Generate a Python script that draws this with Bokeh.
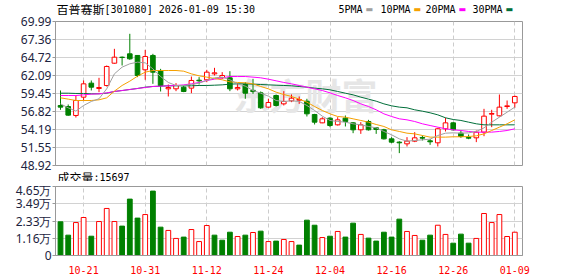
from bokeh.plotting import figure
from bokeh.layouts import column
from bokeh.models import Range1d, FixedTicker, Grid, Label, ColumnDataSource
from bokeh.embed import file_html
from bokeh.resources import INLINE

# ---------------- data ----------------
dates = ["10-16", "10-17", "10-20", "10-21", "10-22", "10-23", "10-24", "10-27", "10-28", "10-29",
         "10-30", "10-31", "11-03", "11-04", "11-05", "11-06", "11-07", "11-10", "11-11", "11-12",
         "11-13", "11-14", "11-17", "11-18", "11-19", "11-20", "11-21", "11-24", "11-25", "11-26",
         "11-27", "11-28", "12-01", "12-02", "12-03", "12-04", "12-05", "12-08", "12-09", "12-10",
         "12-11", "12-12", "12-15", "12-16", "12-17", "12-18", "12-19", "12-22", "12-23", "12-24",
         "12-25", "12-26", "12-29", "12-30", "12-31", "01-05", "01-06", "01-07", "01-08", "01-09"]

opens = [57.70, 57.55, 56.24, 58.92, 60.97, 60.19, 60.62, 63.89, 64.77, 65.26,
         65.02, 62.92, 65.02, 62.82, 60.14, 60.14, 60.38, 60.24, 61.40, 61.46,
         62.33, 61.75, 61.75, 60.14, 60.77, 59.90, 59.55, 57.46, 59.16, 57.94,
         58.38, 58.48, 58.33, 56.38, 55.16, 55.85, 54.87, 55.85, 55.16, 54.14,
         55.36, 54.43, 54.14, 52.82, 52.34, 52.09, 52.48, 53.02, 52.53, 52.24,
         54.29, 55.16, 53.65, 53.02, 52.97, 53.80, 56.43, 56.19, 57.55, 58.09]
highs = [59.90, 57.85, 59.16, 61.36, 61.36, 61.75, 63.55, 65.99, 64.87, 68.19,
         65.06, 65.84, 65.26, 63.06, 60.77, 60.97, 60.63, 61.94, 61.85, 62.92,
         63.21, 62.58, 62.72, 61.00, 61.11, 61.60, 59.75, 58.68, 59.31, 59.80,
         59.31, 59.02, 58.68, 56.48, 55.99, 55.99, 55.99, 56.24, 55.26, 55.26,
         55.60, 54.53, 54.29, 53.07, 52.48, 53.07, 53.80, 53.31, 52.82, 54.43,
         55.90, 55.26, 54.04, 53.46, 54.04, 57.21, 57.07, 59.31, 58.43, 59.16]
lows = [57.07, 56.20, 55.94, 58.43, 59.90, 59.65, 60.48, 63.80, 63.55, 64.38,
        61.85, 61.46, 60.87, 59.75, 59.02, 59.80, 59.65, 59.50, 60.77, 61.11,
        62.09, 61.60, 59.80, 59.90, 58.68, 59.40, 57.21, 57.36, 57.55, 57.70,
        58.19, 57.94, 56.09, 54.92, 55.11, 54.53, 54.77, 54.63, 53.65, 53.55,
        54.04, 53.55, 52.72, 52.19, 50.73, 51.70, 52.34, 52.58, 51.94, 51.70,
        53.90, 54.04, 52.97, 52.77, 52.34, 53.21, 54.53, 56.09, 57.21, 57.36]
closes = [57.46, 56.29, 58.43, 60.87, 60.38, 60.33, 63.41, 64.77, 64.72, 64.53,
          62.09, 64.87, 62.58, 60.63, 60.33, 60.63, 59.75, 61.36, 61.31, 62.58,
          62.48, 62.09, 60.14, 60.33, 59.50, 59.75, 57.36, 58.14, 57.70, 58.29,
          58.77, 58.58, 56.48, 55.26, 55.75, 54.77, 55.60, 55.36, 54.14, 54.87,
          54.14, 54.19, 52.82, 52.34, 52.24, 52.48, 52.97, 52.92, 52.39, 54.29,
          55.16, 54.14, 53.16, 52.92, 53.80, 56.14, 56.53, 57.46, 57.65, 59.02]

ma5 = [57.94, 57.36, 56.87, 57.70, 58.29, 58.68, 60.14, 62.33, 63.31, 63.80,
       64.04, 63.94, 63.06, 61.94, 61.07, 60.63, 60.63, 60.77, 60.97, 61.36,
       61.75, 61.85, 61.46, 60.87, 60.53, 59.89, 59.50, 59.07, 58.43, 58.29,
       58.38, 58.29, 57.70, 56.97, 56.14, 55.51, 55.36, 55.26, 55.02, 54.87,
       54.63, 54.43, 53.90, 53.41, 52.82, 52.48, 52.58, 52.68, 52.77, 53.31,
       53.65, 53.70, 53.65, 53.70, 53.90, 54.43, 55.26, 55.99, 56.72, 57.46]
ma10 = [58.82, 58.63, 58.43, 58.43, 58.43, 58.53, 58.82, 59.80, 60.63, 61.26,
        61.99, 62.58, 62.82, 62.82, 62.82, 62.82, 62.72, 62.33, 62.04, 61.85,
        61.65, 61.46, 61.16, 61.07, 61.02, 60.87, 60.48, 60.14, 59.65, 59.31,
        59.02, 58.63, 58.19, 57.55, 56.97, 56.48, 56.09, 55.99, 55.75, 55.51,
        55.26, 54.92, 54.63, 54.14, 53.90, 53.65, 53.55, 53.31, 53.07, 53.07,
        53.07, 53.12, 53.12, 53.16, 53.26, 53.55, 54.04, 54.53, 55.02, 55.60]
ma20 = [59.16, 59.16, 59.16, 59.26, 59.36, 59.41, 59.55, 59.75, 59.89, 60.04,
        60.19, 60.33, 60.48, 60.53, 60.58, 60.63, 60.72, 60.87, 61.07, 61.36,
        61.55, 61.75, 61.94, 61.94, 61.94, 61.85, 61.75, 61.55, 61.31, 61.07,
        60.87, 60.63, 60.38, 60.14, 59.89, 59.55, 59.16, 58.82, 58.43, 57.94,
        57.55, 57.07, 56.48, 56.09, 55.75, 55.60, 55.36, 55.02, 54.77, 54.53,
        54.29, 54.14, 54.04, 53.90, 53.80, 53.80, 53.80, 53.90, 54.04, 54.29]
ma30 = [59.50, 59.50, 59.46, 59.46, 59.41, 59.41, 59.50, 59.75, 59.89, 60.04,
        60.19, 60.38, 60.48, 60.53, 60.58, 60.58, 60.58, 60.58, 60.63, 60.63,
        60.67, 60.72, 60.82, 60.87, 60.87, 60.82, 60.77, 60.72, 60.67, 60.63,
        60.58, 60.48, 60.38, 60.24, 60.14, 59.99, 59.75, 59.50, 59.26, 58.92,
        58.63, 58.33, 57.94, 57.65, 57.46, 57.36, 57.07, 56.87, 56.63, 56.33,
        55.90, 55.65, 55.51, 55.26, 55.02, 54.87, 54.87, 54.87, 54.87, 54.87]

# volume in units of 万 (10,000 shares)
volumes = [2.27, 1.37, 2.22, 2.56, 1.30, 2.29, 3.17, 2.29, 1.98, 3.80,
           2.52, 2.76, 4.34, 1.91, 1.69, 1.15, 1.24, 1.75, 0.94, 2.02,
           1.37, 1.03, 1.57, 1.28, 1.37, 1.55, 1.64, 0.94, 0.97, 1.08,
           0.94, 0.70, 2.38, 2.04, 1.21, 1.30, 1.62, 1.24, 2.18, 1.42,
           1.17, 0.97, 1.57, 1.24, 2.45, 1.62, 1.35, 1.03, 1.37, 2.04,
           1.42, 0.83, 1.44, 0.83, 1.15, 2.83, 2.22, 2.76, 1.28, 1.5697]
# 1 = red (up) volume bar, 0 = green (down) volume bar
vol_up = [0, 0, 1, 1, 0, 1, 1, 1, 0, 0,
          0, 1, 0, 0, 1, 1, 0, 1, 1, 1,
          0, 0, 0, 1, 0, 1, 0, 1, 0, 1,
          1, 0, 0, 0, 1, 0, 1, 0, 0, 1,
          0, 0, 0, 0, 0, 1, 1, 0, 0, 1,
          1, 0, 0, 0, 1, 1, 1, 1, 1, 1]

price_tick_labels = ["48.92", "51.55", "54.19", "56.82", "59.45", "62.09", "64.72", "67.36", "69.99"]
vol_tick_labels = ["0", "1.16万", "2.33万", "3.49万", "4.65万"]
vol_max = 4.65
date_tick_labels = ["10-21", "10-31", "11-12", "11-24", "12-04", "12-16", "12-26", "01-09"]

title_name = "百普赛斯"
title_rest = "[301080] 2026-01-09 15:30"
vol_title = "成交量"
vol_last = ":15697"
legend_names = ["5PMA", "10PMA", "20PMA", "30PMA"]
watermark = "东方财富"

# ---------------- styles ----------------
RED = "#ff0000"
GREEN = "#008000"
MA_COLORS = ["#a0a0a0", "#f5a000", "#ff00ff", "#006f3a"]
GRID = "#d2d2d2"
BORDER = "#999999"
AXIS_TEXT = "#1c2340"
MONO = "DejaVu Sans Mono"
CJK = "Noto Sans CJK SC"

W = 578
FL = 55   # frame left in page px
FR = 56   # right border

H_HEAD = 15
H1 = 155          # page y 15..170, frame 21..165
H_MID = 11        # page y 170..181
H2 = 95           # page y 181..276, frame 186..255

idx = list(range(len(dates)))
x_ticks = [dates.index(d) for d in date_tick_labels]
p_ticks = [float(s) for s in price_tick_labels]
v_ticks = [vol_max * k / (len(vol_tick_labels) - 1) for k in range(len(vol_tick_labels))]

x_range = Range1d(-0.65, 60.0)


def text_strip(height):
    # the frames of a column are aligned, so this frame spans page x FL..W-FR;
    # its data x equals page x, its data y equals page y within the strip
    f = figure(width=W, height=height, x_range=Range1d(FL, W - FR), y_range=Range1d(height, 0),
               x_axis_type=None, y_axis_type=None, output_backend="svg",
               toolbar_location=None, min_border_left=FL, min_border_right=FR,
               min_border_top=0, min_border_bottom=0)
    f.outline_line_color = None
    return f


def put(f, x, y, text, font, size, color="#000000", **kw):
    f.add_layout(Label(x=x, y=y, text=text, text_font=font, text_font_size=size,
                       text_color=color, text_baseline="middle", **kw))


def style_yaxis(p, ticks, labels):
    ax = p.yaxis[0]
    ax.ticker = FixedTicker(ticks=ticks)
    ax.major_label_overrides = {t: s for t, s in zip(ticks, labels)}
    ax.axis_line_color = BORDER
    ax.major_tick_line_color = BORDER
    ax.major_tick_out = 3
    ax.major_tick_in = 0
    ax.minor_tick_line_color = None
    ax.major_label_standoff = 1
    ax.major_label_text_font = "Noto Sans"
    ax.major_label_text_font_size = "12px"
    ax.major_label_text_color = AXIS_TEXT
    p.ygrid[0].ticker = FixedTicker(ticks=ticks)
    p.ygrid[0].grid_line_color = GRID


# ---------------- header: title + legend ----------------
head = text_strip(H_HEAD)
TY = 8.5
put(head, 56, TY, title_name, CJK, "12px")
put(head, 104, TY, title_rest, MONO, "10px")
leg_x = [338, 380, 425, 472]
for name, lx, col in zip(legend_names, leg_x, MA_COLORS):
    put(head, lx, TY, name, MONO, "10px")
    put(head, lx + 6 * len(name) + 3, TY, "▬", "DejaVu Sans", "8px", col)

# ---------------- price panel ----------------
p1 = figure(width=W, height=H1, x_range=x_range, y_range=Range1d(p_ticks[0], p_ticks[-1]),
            x_axis_type=None, output_backend="svg", toolbar_location=None,
            min_border_left=FL, min_border_right=FR, min_border_top=6, min_border_bottom=5)
p1.outline_line_color = BORDER
style_yaxis(p1, p_ticks, price_tick_labels)
p1.add_layout(Grid(dimension=0, ticker=FixedTicker(ticks=x_ticks),
                   grid_line_color="#cccccc", grid_line_dash="4 3"))

# watermark (screen units: relative to the frame's bottom-left corner)
p1.add_layout(Label(x=305 - FL, y=165 - 93, x_units="screen", y_units="screen",
                    text=watermark, text_font=CJK, text_font_size="36px",
                    text_font_style="bold", text_color="#e6e6e6", text_align="center",
                    text_baseline="middle", level="underlay"))

up = [c >= o for o, c in zip(opens, closes)]
src = ColumnDataSource(dict(
    x=idx, h=highs, l=lows,
    top=[max(o, c) for o, c in zip(opens, closes)],
    bottom=[min(o, c) for o, c in zip(opens, closes)],
    color=[RED if u else GREEN for u in up],
    fill=["#ffffff" if u else GREEN for u in up],
))
p1.segment(x0="x", y0="h", x1="x", y1="l", line_color="color", line_width=1, source=src)
p1.vbar(x="x", width=0.6, top="top", bottom="bottom", fill_color="fill",
        line_color="color", line_width=1, source=src)

for series, col in zip([ma30, ma20, ma10, ma5], MA_COLORS[::-1]):
    p1.line(idx, series, line_color=col, line_width=1)

# ---------------- volume caption ----------------
mid = text_strip(H_MID)
put(mid, 57, 5.5, vol_title, CJK, "12px")
put(mid, 93, 5.5, vol_last, MONO, "10px")

# ---------------- volume panel ----------------
p2 = figure(width=W, height=H2, x_range=x_range, y_range=Range1d(0, vol_max),
            output_backend="svg", toolbar_location=None,
            min_border_left=FL, min_border_right=FR, min_border_top=5, min_border_bottom=21)
p2.outline_line_color = BORDER
style_yaxis(p2, v_ticks, vol_tick_labels)
xa = p2.xaxis[0]
xa.ticker = FixedTicker(ticks=x_ticks)
xa.major_label_overrides = {t: s for t, s in zip(x_ticks, date_tick_labels)}
xa.axis_line_color = BORDER
xa.major_tick_line_color = None
xa.minor_tick_line_color = None
xa.major_label_standoff = 4
xa.major_label_text_font = MONO
xa.major_label_text_font_size = "10px"
xa.major_label_text_color = RED
p2.xgrid[0].ticker = FixedTicker(ticks=x_ticks)
p2.xgrid[0].grid_line_color = "#cccccc"
p2.xgrid[0].grid_line_dash = "4 3"

vsrc = ColumnDataSource(dict(
    x=idx, top=volumes,
    color=[RED if u else GREEN for u in vol_up],
    fill=["#ffffff" if u else GREEN for u in vol_up],
))
p2.vbar(x="x", width=0.62, top="top", bottom=0, fill_color="fill",
        line_color="color", line_width=1, source=vsrc)

layout = column(head, p1, mid, p2, spacing=0)
open("out.html", "w").write(file_html(layout, INLINE))
